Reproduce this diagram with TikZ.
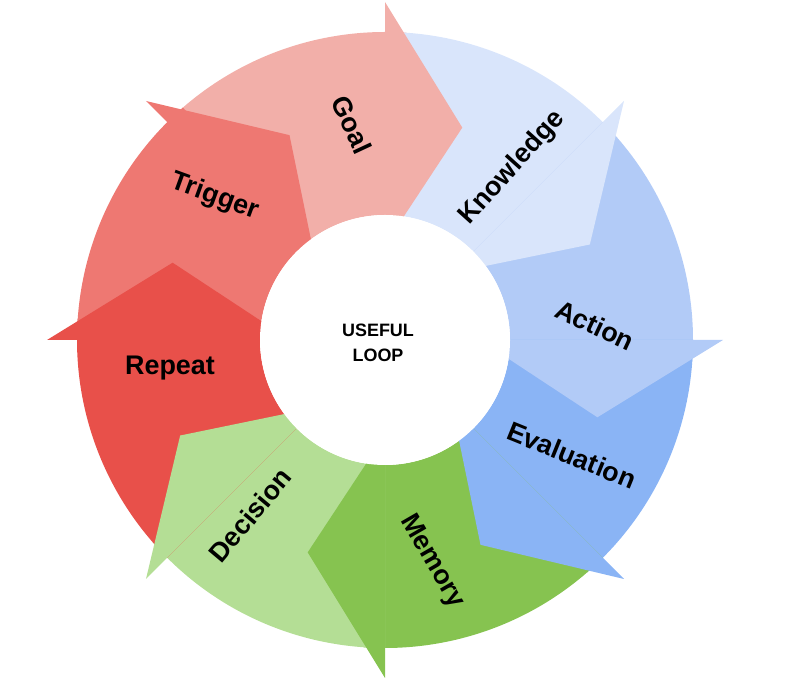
\documentclass[tikz,border=0pt]{standalone}
\usepackage{fontspec}
\setmainfont{Liberation Sans}
\definecolor{goalc}{HTML}{F2AFA9}
\definecolor{knowc}{HTML}{D9E5FB}
\definecolor{actc}{HTML}{B2CBF7}
\definecolor{evalc}{HTML}{8AB4F5}
\definecolor{memc}{HTML}{86C350}
\definecolor{decc}{HTML}{B4DE95}
\definecolor{repc}{HTML}{E8504A}
\definecolor{trigc}{HTML}{EE7872}
\tikzset{
  phase/.style={font=\fontsize{27}{30}\selectfont\bfseries, text=black},
  hub/.style={font=\fontsize{18}{25}\selectfont\bfseries, align=center}
}
\begin{document}
\begin{tikzpicture}[x=1bp,y=1bp]
    \useasboundingbox (0,0) rectangle (800,696);
    \begin{scope}[shift={(385,356)}]
        % ring bodies
        \foreach \a/\c in {90/goalc,45/knowc,0/actc,-45/evalc,-90/memc,-135/decc,180/repc,135/trigc}{
            \fill[\c] (\a+45:308) arc[start angle=\a+45,end angle=\a-4,radius=308]
                -- (\a-4:125) arc[start angle=\a-4,end angle=\a+45,radius=125] -- cycle;
        }
        % arrow heads
        \foreach \a/\c in {90/goalc,45/knowc,0/actc,-45/evalc,-90/memc,-135/decc,180/repc,135/trigc}{
            \fill[\c] (\a:95) -- (\a-20:226) -- (\a:338) -- cycle;
        }
        \fill[white] (0,0) circle[radius=125];
        \node[hub] (hub) at (-7,-3) {USEFUL\\LOOP};
    \end{scope}
    \node[phase, rotate=-65] (goal) at (352,571) {Goal};
    \node[phase, rotate=48] (know) at (512,528) {Knowledge};
    \node[phase, rotate=-25] (act) at (595,371) {Action};
    \node[phase, rotate=-22] (eval) at (572,241) {Evaluation};
    \node[phase, rotate=-60] (mem) at (432,134) {Memory};
    \node[phase, rotate=50] (dec) at (250,181) {Decision};
    \node[phase] (rep) at (170,328) {Repeat};
    \node[phase, rotate=-20] (trig) at (215,499) {Trigger};
\end{tikzpicture}
\end{document}
